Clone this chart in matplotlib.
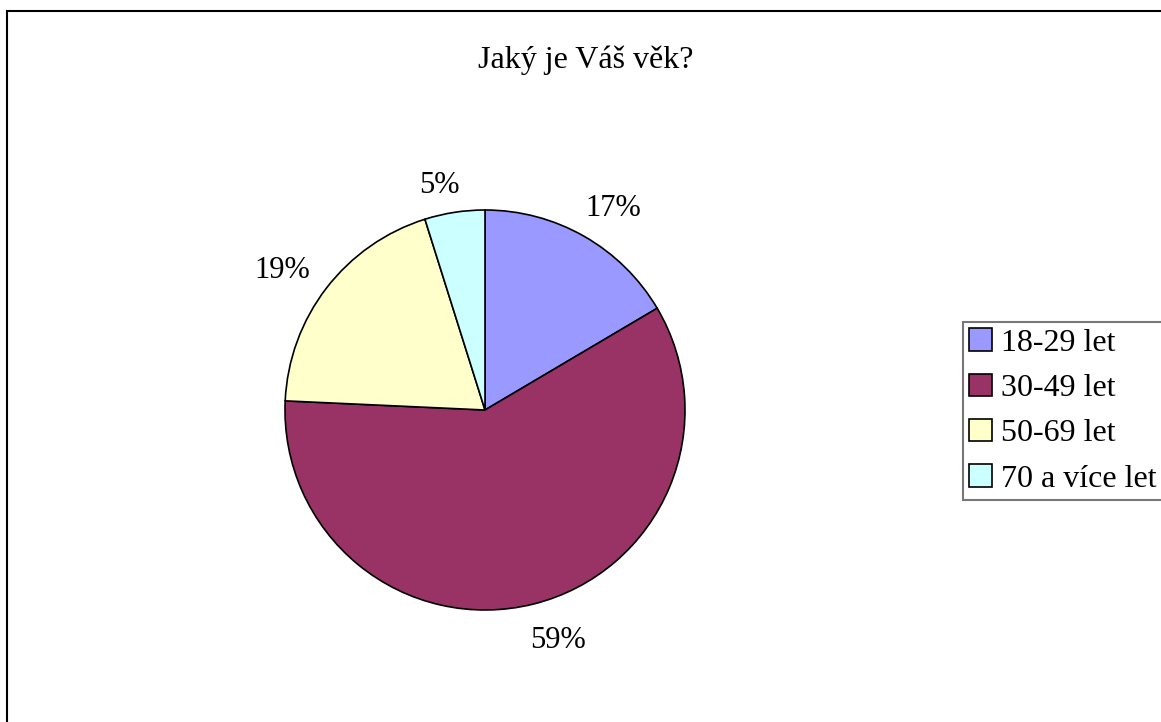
import matplotlib
matplotlib.use("Agg")
import matplotlib.pyplot as plt
from matplotlib.patches import Rectangle

categories = ["18-29 let", "30-49 let", "50-69 let", "70 a více let"]
counts = [17, 61, 20, 5]
pct_labels = ["17%", "59%", "19%", "5%"]
colors = ["#9999FF", "#993366", "#FFFFCC", "#CCFFFF"]
title = "Jaký je Váš věk?"

# small per-label nudges (in pie-radius units) to mimic the original placement
label_nudges = [(0.046, -0.037), (0.075, 0.014), (-0.062, -0.035), (-0.046, -0.062)]

plt.rcParams['font.family'] = ['Liberation Serif', 'DejaVu Serif']

W, H = 1161, 722
fig = plt.figure(figsize=(W / 100, H / 100), dpi=100)
fig.patch.set_facecolor("white")

# outer border (right/bottom extend beyond canvas)
fig.add_artist(Rectangle((6.5 / W, -0.1), 1.2, (H - 10.5) / H + 0.1,
                         transform=fig.transFigure, fill=False,
                         edgecolor="black", linewidth=1.5))

cx, cy, R = 485, 410, 200
ax = fig.add_axes([(cx - R) / W, (H - cy - R) / H, 2 * R / W, 2 * R / H])
wedges, texts = ax.pie(counts, colors=colors, startangle=90, counterclock=False,
                       wedgeprops=dict(edgecolor="black", linewidth=1.2),
                       labels=pct_labels, labeldistance=1.2,
                       textprops=dict(fontsize=22))
for t, (dx, dy) in zip(texts, label_nudges):
    x, y = t.get_position()
    t.set_position((x + dx, y + dy))
    t.set_ha("center")
    t.set_va("center")
ax.set_xlim(-1, 1)
ax.set_ylim(-1, 1)
ax.set_aspect("equal")

fig.text(586 / W, 1 - 60 / H, title, ha="center", va="center", fontsize=23)

leg = fig.legend(wedges, categories, loc="upper left",
                 bbox_to_anchor=(963 / W, 1 - 322 / H),
                 fontsize=23, frameon=True, fancybox=False,
                 handlelength=0.7, handleheight=0.7, handletextpad=0.3,
                 labelspacing=0.5, borderpad=0.2, borderaxespad=0)
leg.get_frame().set_edgecolor("#555555")
leg.get_frame().set_linewidth(1.5)

fig.savefig("out.png", dpi=100)
